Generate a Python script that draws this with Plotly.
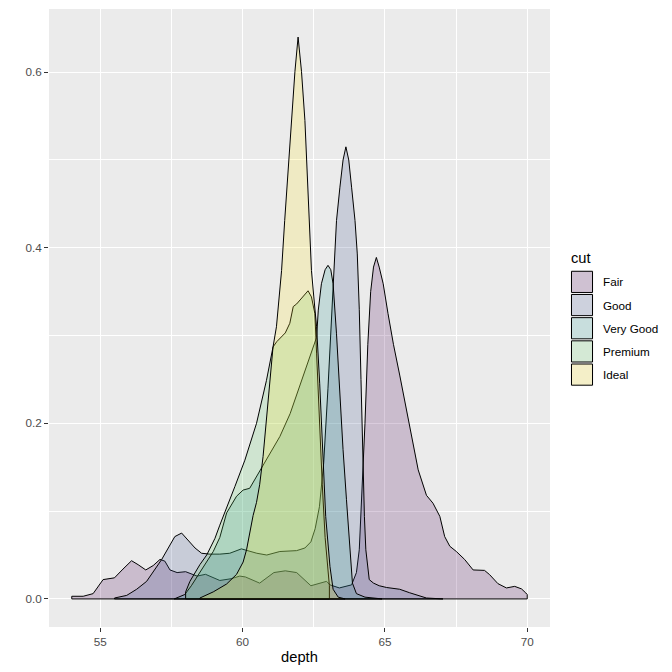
import plotly.graph_objects as go

# ---- data ----
cuts = ["Fair", "Good", "Very Good", "Premium", "Ideal"]
colors = ["#440154", "#3B528B", "#21908C", "#5DC863", "#FDE725"]

fair_x = [54.0, 54.4, 54.75, 55.1, 55.3, 55.5, 55.8, 56.1, 56.33, 56.6, 56.86, 57.1, 57.27, 57.45, 57.7,
          58.0, 58.4, 58.7, 59.2, 59.6, 59.9, 60.1, 60.6, 61.1, 61.5, 61.9, 62.4, 62.95, 63.07, 63.4,
          63.83, 64.0, 64.1, 64.2, 64.3, 64.4, 64.5, 64.6, 64.7, 64.8, 64.94, 65.11, 65.3, 65.52, 65.85,
          65.99, 66.17, 66.46, 66.69, 66.93, 67.1, 67.28, 67.51, 67.8, 68.1, 68.5, 68.68, 68.97, 69.27,
          69.56, 69.8, 69.95, 70.0]
fair_y = [0.003, 0.003, 0.006, 0.022, 0.023, 0.024, 0.034, 0.0435, 0.039, 0.033, 0.038, 0.045, 0.043, 0.033, 0.030,
          0.031, 0.026, 0.028, 0.021, 0.023, 0.026, 0.025, 0.018, 0.030, 0.032, 0.030, 0.015, 0.020, 0.016, 0.0125,
          0.016, 0.030, 0.056, 0.12, 0.20, 0.29, 0.35, 0.378, 0.389, 0.378, 0.359, 0.325, 0.29, 0.255, 0.20,
          0.173, 0.147, 0.118, 0.109, 0.094, 0.071, 0.060, 0.054, 0.045, 0.033, 0.0325, 0.0276, 0.0174, 0.0125,
          0.0143, 0.0114, 0.0068, 0.005]

good_x = [55.5, 55.93, 56.28, 56.63, 56.92, 57.16, 57.39, 57.62, 57.86, 58.09, 58.33, 58.56, 58.85, 59.2,
          59.55, 59.96, 60.2, 60.5, 60.85, 61.31, 61.9, 62.19, 62.4, 62.55, 62.7, 62.85, 63.0, 63.12, 63.18,
          63.24, 63.3, 63.42, 63.53, 63.63, 63.73, 63.83, 63.95, 64.03, 64.1, 64.16, 64.21, 64.28, 64.33,
          64.45, 64.6, 64.8, 65.06, 65.52, 65.87, 66.46, 67.04]
good_y = [0.001, 0.004, 0.011, 0.020, 0.033, 0.045, 0.058, 0.071, 0.075, 0.067, 0.058, 0.052, 0.051, 0.051,
          0.052, 0.057, 0.055, 0.052, 0.050, 0.054, 0.055, 0.058, 0.065, 0.080, 0.105, 0.155, 0.240, 0.317, 0.355,
          0.393, 0.431, 0.469, 0.500, 0.515, 0.500, 0.469, 0.431, 0.393, 0.330, 0.250, 0.170, 0.094, 0.056,
          0.022, 0.018, 0.015, 0.013, 0.011, 0.007, 0.001, 0.0]

vgood_x = [57.6, 57.97, 58.2, 58.38, 58.74, 58.97, 59.2, 59.44, 59.79, 60.02, 60.25, 60.55, 60.96, 61.31,
           61.67, 62.07, 62.48, 62.6, 62.66, 62.77, 62.9, 63.0, 63.1, 63.18, 63.3, 63.42, 63.53, 63.65, 63.77,
           63.86, 64.0, 64.3, 64.9]
vgood_y = [0.0, 0.005, 0.015, 0.024, 0.043, 0.054, 0.070, 0.098, 0.117, 0.124, 0.126, 0.143, 0.166, 0.185,
           0.211, 0.249, 0.287, 0.298, 0.329, 0.359, 0.375, 0.380, 0.375, 0.359, 0.302, 0.227, 0.170, 0.113, 0.056,
           0.018, 0.006, 0.002, 0.0]

premium_x = [58.0, 58.15, 58.5, 58.74, 59.03, 59.2, 59.4, 59.73, 60.08, 60.49, 60.84, 61.07, 61.2, 61.31,
             61.5, 61.66, 61.78, 61.9, 62.13, 62.3, 62.42, 62.54, 62.6, 62.7, 62.8, 62.9, 63.0, 63.05]
premium_y = [0.008, 0.020, 0.039, 0.050, 0.069, 0.084, 0.100, 0.128, 0.158, 0.200, 0.249, 0.287, 0.293, 0.297,
             0.303, 0.314, 0.333, 0.336, 0.344, 0.351, 0.344, 0.325, 0.280, 0.200, 0.130, 0.070, 0.030, 0.015]

ideal_x = [58.5, 58.97, 59.44, 59.79, 60.02, 60.14, 60.25, 60.37, 60.49, 60.6, 60.72, 60.84, 60.96, 61.07,
           61.19, 61.25, 61.37, 61.48, 61.6, 61.72, 61.84, 61.95, 62.07, 62.19, 62.27, 62.34, 62.42, 62.5,
           62.6, 62.71, 62.81, 62.92, 63.07, 63.18, 63.36, 63.6]
ideal_y = [0.001, 0.008, 0.017, 0.028, 0.042, 0.056, 0.075, 0.095, 0.110, 0.130, 0.162, 0.204, 0.249, 0.287,
           0.310, 0.329, 0.374, 0.431, 0.488, 0.545, 0.601, 0.640, 0.601, 0.545, 0.488, 0.431, 0.374, 0.345,
           0.310, 0.245, 0.170, 0.094, 0.037, 0.011, 0.002, 0.0]

x_ticks = [55, 60, 65, 70]
y_ticks = [0.0, 0.2, 0.4, 0.6]
y_tick_labels = ["0.0", "0.2", "0.4", "0.6"]

series = [(fair_x, fair_y), (good_x, good_y), (vgood_x, vgood_y), (premium_x, premium_y), (ideal_x, ideal_y)]


def rgba(hexc, a):
    h = hexc.lstrip("#")
    return "rgba(%d,%d,%d,%s)" % (int(h[0:2], 16), int(h[2:4], 16), int(h[4:6], 16), a)


fig = go.Figure()
for name, col, (xs, ys) in zip(cuts, colors, series):
    px_ = [xs[0]] + list(xs) + [xs[-1], xs[0]]
    py_ = [0.0] + list(ys) + [0.0, 0.0]
    fig.add_trace(go.Scatter(x=px_, y=py_, mode="lines", fill="toself",
                             fillcolor=rgba(col, 0.2), line=dict(color="black", width=1),
                             name=name, showlegend=False, hoverinfo="skip"))

# panel geometry in pixels
W, H = 672, 672
L, R, T, B = 49, 550, 9, 627.5

font_fam = "Liberation Sans, Arial, sans-serif"
fig.update_layout(
    width=W, height=H, autosize=False,
    margin=dict(l=L, r=W - R, t=T, b=H - B, pad=0),
    paper_bgcolor="white", plot_bgcolor="#EBEBEB",
    showlegend=False,
    font=dict(family=font_fam),
)
fig.update_xaxes(range=[53.2, 70.8], tickvals=x_ticks, ticktext=[str(v) for v in x_ticks],
                 showgrid=True, gridcolor="white", gridwidth=1.1, zeroline=False, showline=False,
                 ticks="outside", ticklen=4, tickwidth=1, tickcolor="#333333",
                 tickfont=dict(size=11.7, color="#4D4D4D", family=font_fam),
                 minor=dict(dtick=2.5, tick0=52.5, showgrid=True, gridcolor="white", gridwidth=0.55, ticks=""),
                 title=dict(text="depth", font=dict(size=14.7, color="black", family=font_fam), standoff=4))
fig.update_yaxes(range=[-0.032, 0.672], tickvals=y_ticks, ticktext=y_tick_labels,
                 showgrid=True, gridcolor="white", gridwidth=1.1, zeroline=False, showline=False,
                 ticks="outside", ticklen=4, tickwidth=1, tickcolor="#333333",
                 tickfont=dict(size=11.7, color="#4D4D4D", family=font_fam),
                 minor=dict(dtick=0.1, tick0=0.1, showgrid=True, gridcolor="white", gridwidth=0.55, ticks=""))


def pxp(xp):
    return (xp - L) / (R - L)


def pyp(yp):
    return (B - yp) / (B - T)


# legend (manual, ggplot style)
fig.add_annotation(x=pxp(569), y=pyp(258), xref="paper", yref="paper", text="cut", showarrow=False,
                   xanchor="left", yanchor="middle", font=dict(size=14.7, color="black", family=font_fam))
key_top = 270.5
key_h = 23.2
for i, (name, col) in enumerate(zip(cuts, colors)):
    y0 = key_top + i * key_h
    fig.add_shape(type="rect", xref="paper", yref="paper",
                  x0=pxp(570.5), x1=pxp(593.5), y0=pyp(y0), y1=pyp(y0 + key_h),
                  fillcolor="#F2F2F2", line=dict(width=0), layer="above")
    fig.add_shape(type="rect", xref="paper", yref="paper",
                  x0=pxp(571.5), x1=pxp(592.5), y0=pyp(y0 + 1), y1=pyp(y0 + key_h - 1),
                  fillcolor=rgba(col, 0.2), line=dict(color="black", width=1), layer="above")
    fig.add_annotation(x=pxp(601), y=pyp(y0 + key_h / 2), xref="paper", yref="paper", text=name,
                       showarrow=False, xanchor="left", yanchor="middle",
                       font=dict(size=11.7, color="black", family=font_fam))

fig.write_html("out.html", config={"displayModeBar": False},
               post_script="document.body.style.margin='0';document.body.style.padding='0';")
